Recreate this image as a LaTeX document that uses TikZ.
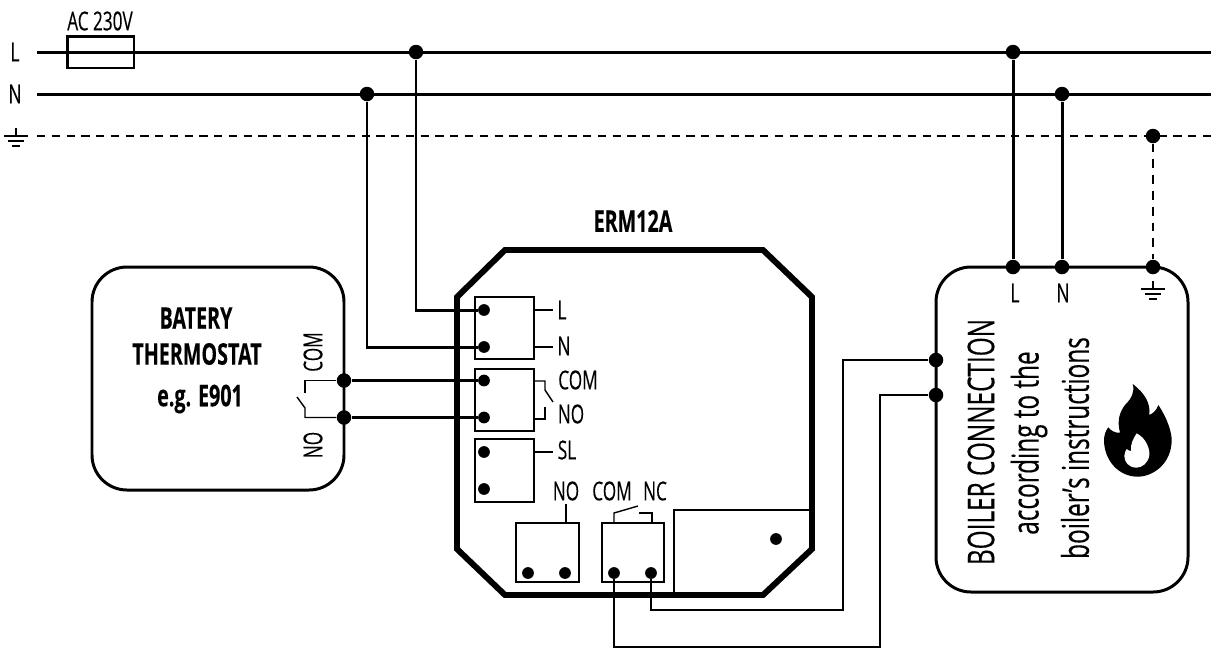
\documentclass[tikz,border=0pt]{standalone}
\usepackage{fontspec}
\setmainfont[FakeStretch=0.66,FakeBold=0.25]{Open Sans}
\usepackage{tikz}
\usetikzlibrary{calc}
\tikzset{
  wire/.style={line width=1.7pt},
  thinwire/.style={line width=0.8pt},
  blockbox/.style={draw,line width=1.4pt,inner sep=0,outer sep=0,anchor=north west},
  bigdot/.style={circle,fill=black,inner sep=0,minimum size=0.29cm},
  smalldot/.style={circle,fill=black,inner sep=0,minimum size=0.235cm},
  lbl/.style={inner sep=0,font=\fontsize{14.8}{16}\selectfont},
  boldlbl/.style={inner sep=0,font=\fontsize{17}{19}\selectfont\bfseries},
  biglbl/.style={inner sep=0,rotate=90,font=\fontsize{21}{24}\selectfont},
  earth/.pic={
    \draw[line width=0.8pt] (0,-8) -- (0,0) (-12,0) -- (12,0);
    \draw[line width=0.8pt] (-8,5) -- (8,5) (-4,10) -- (4,10);
  }
}
\begin{document}
\begin{tikzpicture}[x=0.02cm,y=-0.02cm]
\useasboundingbox (0,0) rectangle (1211,657);
\path
  (37,52) coordinate (Lstart) (1211,52) coordinate (Lend)
  (37,94) coordinate (Nstart) (1211,94) coordinate (Nend)
  (37,136) coordinate (Estart) (1211,136) coordinate (Eend)
  (843,610) coordinate (jogNC) (880,647) coordinate (jogCOM)
;
% mains
\draw[wire] (Lstart) -- (Lend);
\draw[wire] (Nstart) -- (Nend);
\draw[line width=1.4pt,dash pattern=on 4.7pt off 3.7pt] (Estart) -- (Eend);
\node[draw,wire,fill=none,inner sep=0,outer sep=0,minimum width=1.34cm,minimum height=0.64cm] (fuse) at (100.5,52) {};
\node[lbl] (acText) at (100,21) {AC 230V};
\node[lbl] (Ltext) at (15,52) {L};
\node[lbl] (Ntext) at (15,94) {N};
\pic at (16,136) {earth};
\node[bigdot] (Ldot) at (416,52) {};
\node[bigdot] (Ndot) at (367,94) {};
\node[bigdot] (Lboil) at (1013,52) {};
\node[bigdot] (Nboil) at (1062,94) {};
\node[bigdot] (Eboil) at (1153,136) {};

% module
\draw[line width=3.4pt,miter limit=2] (457,297) -- (505,250) -- (763,250) -- (812,297) -- (812,549) -- (763,595) -- (505,595) -- (457,549) -- cycle;
\node[boldlbl] (ermText) at (633,221) {ERM12A};
\draw[line width=1.4pt] (674,595) -- (674,510) -- (812,510);
\node[smalldot] (relayDot) at (776,539) {};
\node[blockbox,minimum width=1.18cm,minimum height=1.24cm] (blockA) at (475,297) {};
\node[blockbox,minimum width=1.18cm,minimum height=1.24cm] (blockB) at (475,369) {};
\node[blockbox,minimum width=1.18cm,minimum height=1.26cm] (blockC) at (475,439) {};
\node[blockbox,minimum width=1.26cm,minimum height=1.18cm] (blockD) at (516,523) {};
\node[blockbox,minimum width=1.24cm,minimum height=1.18cm] (blockE) at (602,523) {};
\node[smalldot] (termL) at (484,310) {};
\node[smalldot] (termN) at (484,347) {};
\node[smalldot] (termCOM) at (484,380.5) {};
\node[smalldot] (termNO) at (484,417.5) {};
\node[smalldot] (termSa) at (484,452) {};
\node[smalldot] (termSb) at (484,489) {};
\node[smalldot] (termDa) at (528,573) {};
\node[smalldot] (termDb) at (565,573) {};
\node[smalldot] (termEa) at (614,573) {};
\node[smalldot] (termEb) at (651,573) {};
\node[lbl] (tL) at (562,310) {L};
\node[lbl] (tN) at (564,346) {N};
\node[lbl] (tCOM) at (578,380) {COM};
\node[lbl] (tNO) at (571,414) {NO};
\node[lbl] (tSL) at (567,450) {SL};
\node[lbl] (tNOb) at (566,491) {NO};
\node[lbl] (tCOMb) at (612,491) {COM};
\node[lbl] (tNC) at (655,491) {NC};
\draw[thinwire] (534,310) -- (553,310);
\draw[thinwire] (534,347) -- (553,347);
\draw[thinwire] (534,452) -- (553,452);
\draw[thinwire] (534,381) -- (545,381) -- (545,390) -- (553,402);
\draw[thinwire] (545,407) -- (545,419) -- (534,419);
\draw[thinwire] (566,523) -- (566,504);
\draw[thinwire] (614,523) -- (614,513) -- (638,506);
\draw[thinwire] (652,523) -- (652,513) -- (639,513);

% thermostat
\draw[wire,rounded corners=0.7cm] (92,267) rectangle (344,490);
\node[boldlbl] (thA) at (196,318) {BATERY};
\node[boldlbl] (thB) at (197,354) {THERMOSTAT};
\node[boldlbl] (thC) at (200,399) {e.g. E901};
\node[bigdot] (thCOM) at (344,380.5) {};
\node[bigdot] (thNO) at (344,417.5) {};
\node[lbl,rotate=90] (thCOMtext) at (313,352) {COM};
\node[lbl,rotate=90] (thNOtext) at (313,445) {NO};
\draw[thinwire] (thCOM) -- (305,380.5) -- (305,393);
\draw[thinwire] (thNO) -- (305,417.5) -- (305,408) -- (297,397);

% boiler
\draw[wire,rounded corners=0.7cm] (936,267) rectangle (1188,592);
\node[bigdot] (boilL) at (1013,267) {};
\node[bigdot] (boilN) at (1062,267) {};
\node[bigdot] (boilE) at (1153,267) {};
\node[bigdot] (boilA) at (936,360) {};
\node[bigdot] (boilB) at (936,395) {};
\node[lbl] (bL) at (1015,293) {L};
\node[lbl] (bN) at (1063,293) {N};
\pic at (1153,289) {earth};
\node[biglbl] (bcA) at (981,442) {BOILER CONNECTION};
\node[biglbl] (bcB) at (1029,443) {according to the};
\node[biglbl] (bcC) at (1075,448) {boiler's instructions};
\begin{scope}[shift={(1090,370)},x=0.00667cm,y=-0.00667cm]
\fill (128,42) .. controls (165,70) and (182,100) .. (178,135)
  .. controls (190,130) and (200,120) .. (205,105)
  .. controls (235,150) and (245,190) .. (245,210)
  .. controls (245,280) and (190,320) .. (143,320)
  .. controls (85,320) and (42,270) .. (42,210)
  .. controls (42,195) and (48,180) .. (55,172)
  .. controls (60,180) and (75,190) .. (90,188)
  .. controls (80,150) and (90,125) .. (105,105)
  .. controls (125,85) and (135,65) .. (128,42) -- cycle;
\fill[white] (140,190) .. controls (170,205) and (180,240) .. (178,255)
  .. controls (175,280) and (155,293) .. (140,293)
  .. controls (115,293) and (103,275) .. (103,258)
  .. controls (103,250) and (107,242) .. (110,237)
  .. controls (113,240) and (118,243) .. (123,243)
  .. controls (120,225) and (130,205) .. (140,190) -- cycle;
\end{scope}

% connections
\draw[wire] (Ldot) |- (termL);
\draw[wire] (Ndot) |- (termN);
\draw[wire] (thCOM) -- (termCOM);
\draw[wire] (thNO) -- (termNO);
\draw[wire] (Lboil) -- (boilL);
\draw[wire] (Nboil) -- (boilN);
\draw[line width=1pt,dash pattern=on 5pt off 4pt] (Eboil) -- (boilE);
\draw[line width=1.6pt] (termEb) |- (jogNC) |- (boilA);
\draw[line width=1.6pt] (termEa) |- (jogCOM) |- (boilB);
\end{tikzpicture}
\end{document}
